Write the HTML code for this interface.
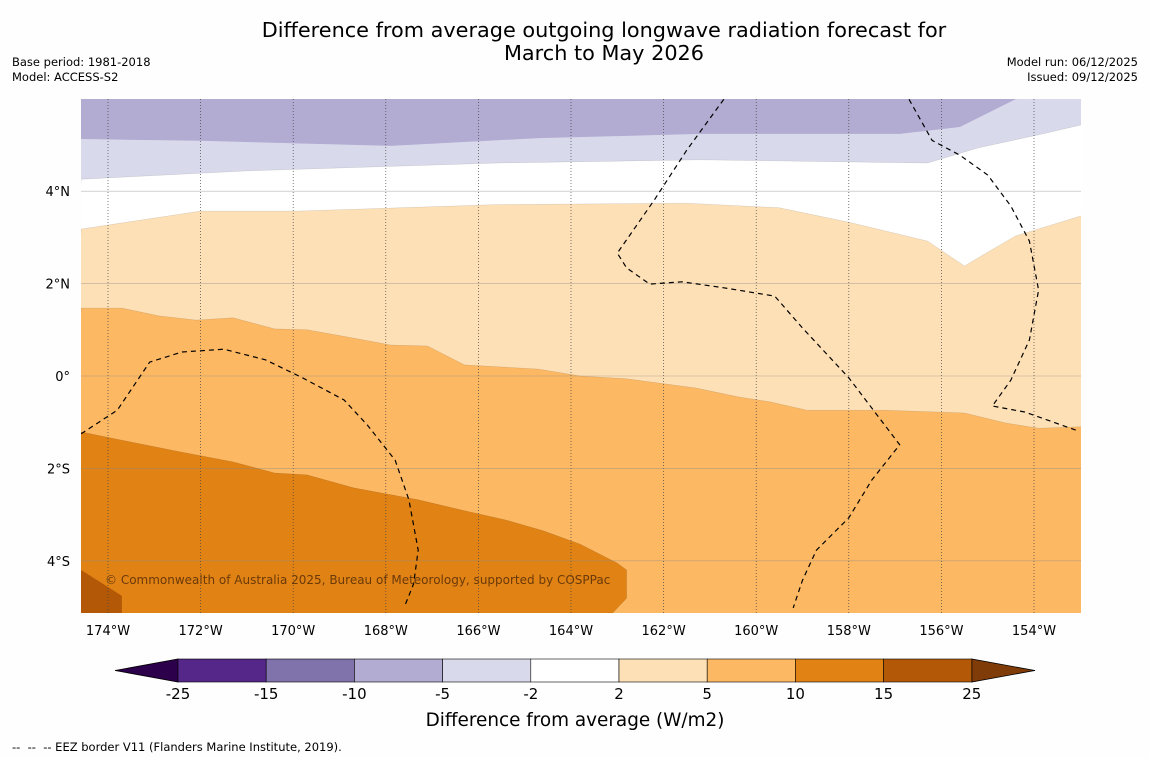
<!DOCTYPE html>
<html><head><meta charset="utf-8">
<style>
body{margin:0;background:#fff;font-family:"DejaVu Sans","Liberation Sans",sans-serif;}
#wrap{position:relative;width:1150px;height:758px;background:#fefefe;}
.t{position:absolute;color:#000;}
</style></head>
<body>
<div id="wrap">
<svg id="svg" width="1150" height="758" style="position:absolute;left:0;top:0"></svg>
<div class="t" style="left:0;width:1208px;top:19px;text-align:center;font-size:20.8px;line-height:23px;">Difference from average outgoing longwave radiation forecast for<br>March to May 2026</div>
<div class="t" style="left:12px;top:55px;font-size:11.5px;line-height:15px;">Base period: 1981-2018<br>Model: ACCESS-S2</div>
<div class="t" style="right:12px;top:55px;font-size:11.5px;line-height:15px;text-align:right;">Model run: 06/12/2025<br>Issued: 09/12/2025</div>
<div class="t" style="left:12px;top:740px;font-size:11.5px;">--&nbsp; --&nbsp; -- EEZ border V11 (Flanders Marine Institute, 2019).</div>
</div>
<script>
const lonTicks=[-174,-172,-170,-168,-166,-164,-162,-160,-158,-156,-154];
const latTicks=[4,2,0,-2,-4];
const latLabels=["4°N","2°N","0°","2°S","4°S"];
const levels=["-25","-15","-10","-5","-2","2","5","10","15","25"];
const levelColors=["#542788","#8073ac","#b2abd2","#d8daeb","#ffffff","#fee0b6","#fdb863","#e08214","#b35806"];
const bPurpleDark=[[-174.58,5.13],[-172,5.09],[-167.9,4.98],[-164.7,5.15],[-161.2,5.24],[-156.9,5.24],[-155.6,5.39],[-154.4,5.99]];
const bPurpleLight=[[-174.58,4.26],[-171,4.44],[-165.6,4.61],[-161.2,4.68],[-156.3,4.61],[-155.2,4.94],[-153.9,5.22],[-153,5.43]];
const bOrangeLight=[[-174.58,3.18],[-172,3.57],[-169.9,3.57],[-167.7,3.64],[-165.6,3.71],[-161.5,3.74],[-159.5,3.64],[-158,3.33],[-156.3,2.92],[-155.5,2.38],[-155,2.68],[-154.4,3.03],[-153,3.46]];
const bOrange=[[-174.58,1.47],[-173.7,1.47],[-172.9,1.3],[-172.1,1.21],[-171.3,1.26],[-170.4,1.02],[-169.7,1.0],[-168.8,0.84],[-167.9,0.67],[-167.1,0.65],[-166.3,0.24],[-164.7,0.15],[-163.8,0],[-162.8,-0.06],[-161.3,-0.26],[-160.4,-0.45],[-159.7,-0.56],[-158.9,-0.74],[-157.2,-0.74],[-155.5,-0.8],[-154.6,-1.02],[-153.9,-1.13],[-153,-1.1]];
const bOrangeDark=[[-174.58,-1.21],[-173.7,-1.39],[-172.4,-1.65],[-171.3,-1.86],[-170.4,-2.1],[-169.7,-2.14],[-168.7,-2.42],[-167.3,-2.68],[-166.2,-2.94],[-165.4,-3.12],[-164.6,-3.35],[-163.8,-3.64],[-163,-4.05],[-162.8,-4.2],[-162.8,-4.81],[-163.1,-5.13]];
const bDarkest=[[-174.58,-4.2],[-173.7,-4.76],[-173.7,-5.13]];
const eez1=[[-174.58,-1.25],[-173.8,-0.74],[-173.1,0.3],[-172.4,0.52],[-171.5,0.58],[-170.6,0.35],[-169.8,-0.04],[-168.9,-0.52],[-168.4,-1.06],[-167.8,-1.82],[-167.5,-2.68],[-167.3,-3.77],[-167.4,-4.5],[-167.6,-5.0]];
const eez2=[[-160.7,5.99],[-161.5,4.89],[-162.2,3.81],[-163,2.66],[-162.8,2.34],[-162.3,1.99],[-161.6,2.04],[-160.7,1.91],[-159.6,1.73],[-159,1.04],[-158,-0.04],[-156.9,-1.49],[-157.5,-2.25],[-158,-3.07],[-158.7,-3.77],[-159,-4.42],[-159.2,-5.02]];
const eez3=[[-156.7,5.99],[-156.2,5.1],[-155.6,4.78],[-155,4.35],[-154.5,3.68],[-154.1,2.92],[-153.9,1.86],[-154.1,0.78],[-154.5,-0.09],[-154.9,-0.65],[-154.2,-0.78],[-153.1,-1.17]];

const X0=81,X1=1081,Y0=99,Y1=613;
const xs=lon=>108+(lon+174)*46.3;
const ys=lat=>376-lat*46.2;
const NS="http://www.w3.org/2000/svg";
const svg=document.getElementById('svg');
const FF='DejaVu Sans, Liberation Sans, sans-serif';
function mk(tag,attrs,parent){const e=document.createElementNS(NS,tag);for(const k in attrs)e.setAttribute(k,attrs[k]);(parent||svg).appendChild(e);return e;}
const pts=a=>a.map(p=>xs(p[0]).toFixed(1)+','+ys(p[1]).toFixed(1)).join(' ');
const clip=mk('clipPath',{id:'mc'});mk('rect',{x:X0,y:Y0,width:X1-X0,height:Y1-Y0},clip);
const g=mk('g',{'clip-path':'url(#mc)'});


const bg=mk('rect',{x:X0,y:Y0,width:X1-X0,height:Y1-Y0,fill:levelColors[3]},g);


function region(boundary,color,name){
  const p=pts(boundary)+` ${X1+20},${ys(boundary[boundary.length-1][1])} ${X1+20},${Y1+20} ${X0-20},${Y1+20}`;
  const e=mk('polygon',{points:p,fill:color,stroke:'#00000033','stroke-width':0.4},g);
  
  
}
const topRegion=mk('polygon',{points:`${X0-20},${Y0-20} `+pts(bPurpleDark)+` ${X1+20},${Y0-20}`,fill:levelColors[2]},g);


region(bPurpleLight,'#ffffff','region-near-zero');
region(bOrangeLight,levelColors[5],'region-2-5');
region(bOrange,levelColors[6],'region-5-10');
{const p=pts(bOrangeDark)+` ${X0-20},${Y1+20}`;const e=mk('polygon',{points:p,fill:levelColors[7],stroke:'#00000033','stroke-width':0.4},g);

}
{const p=pts(bDarkest)+` ${X0-20},${Y1+20}`;const e=mk('polygon',{points:p,fill:levelColors[8]},g);

}
lonTicks.forEach(l=>{const e=mk('line',{x1:xs(l),x2:xs(l),y1:Y0,y2:Y1,stroke:'#444','stroke-width':0.7,'stroke-dasharray':'1,2'},g);

});
latTicks.forEach(l=>{const e=mk('line',{x1:X0,x2:X1,y1:ys(l),y2:ys(l),stroke:'#888','stroke-width':0.6,opacity:0.6},g);

});
[eez1,eez2,eez3].forEach(a=>{const e=mk('polyline',{points:pts(a),fill:'none',stroke:'#000','stroke-width':1.2,'stroke-dasharray':'5,4'},g);

});
const cr=mk('text',{x:105,y:584,'font-size':12,fill:'#6b3a0a','font-family':FF},g);
cr.textContent='© Commonwealth of Australia 2025, Bureau of Meteorology, supported by COSPPac';


lonTicks.forEach(l=>{const t=mk('text',{x:xs(l),y:635,'text-anchor':'middle','font-size':13,'font-family':FF});t.textContent=Math.abs(l)+'°W';

});
latTicks.forEach((l,i)=>{const t=mk('text',{x:70,y:ys(l)+5,'text-anchor':'end','font-size':13,'font-family':FF});t.textContent=latLabels[i];

});
const cb0=178,cbw=88.2,cy=659,ch=23;
const lt=mk('polygon',{points:`115,${cy+ch/2} ${cb0},${cy} ${cb0},${cy+ch}`,fill:'#2d004b',stroke:'#000','stroke-width':0.8});


const rt=mk('polygon',{points:`1035,${cy+ch/2} ${cb0+9*cbw},${cy} ${cb0+9*cbw},${cy+ch}`,fill:'#7f3b08',stroke:'#000','stroke-width':0.8});


levelColors.forEach((c,i)=>{const r=mk('rect',{x:cb0+i*cbw,y:cy,width:cbw,height:ch,fill:c,stroke:'#000','stroke-width':0.6});

});
levels.forEach((s,i)=>{const t=mk('text',{x:cb0+i*cbw,y:699,'text-anchor':'middle','font-size':15,'font-family':FF});t.textContent=s;

});
const ct=mk('text',{x:575,y:726,'text-anchor':'middle','font-size':18.4,'font-family':FF});
ct.textContent='Difference from average (W/m2)';


</script>
</body></html>
